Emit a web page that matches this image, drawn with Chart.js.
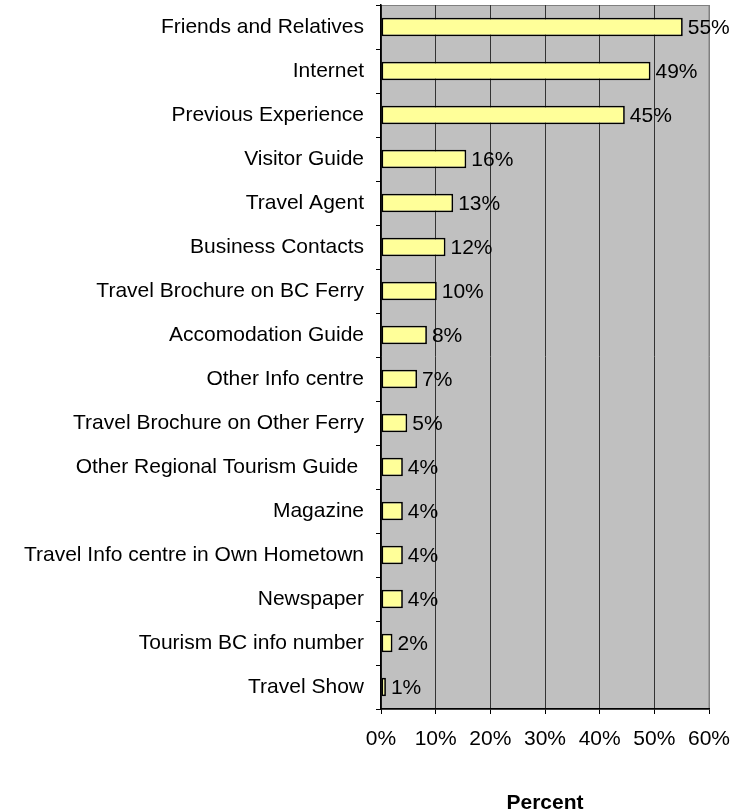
<!DOCTYPE html>
<html>
<head>
<meta charset="utf-8">
<script src="https://cdn.jsdelivr.net/npm/chart.js@4"></script>
<style>
  html, body { margin: 0; padding: 0; background: #fff; }
  #wrap { width: 752px; height: 812px; }
</style>
</head>
<body>
<div id="wrap"><canvas id="myChart" width="752" height="812"></canvas></div>
<script>
// categories, top to bottom
var sources = [
  "Friends and Relatives",
  "Internet",
  "Previous Experience",
  "Visitor Guide",
  "Travel Agent",
  "Business Contacts",
  "Travel Brochure on BC Ferry",
  "Accomodation Guide",
  "Other Info centre",
  "Travel Brochure on Other Ferry",
  "Other Regional Tourism Guide ",
  "Magazine",
  "Travel Info centre in Own Hometown",
  "Newspaper",
  "Tourism BC info number",
  "Travel Show"
];
// percent of respondents
var percents = [55.2, 49.3, 44.6, 15.6, 13.2, 11.8, 10.2, 8.4, 6.6, 4.8, 4.0, 4.0, 4.0, 4.0, 2.1, 0.9];
var xTicks = [0, 10, 20, 30, 40, 50, 60];

var FONT = "'Liberation Sans', Arial, sans-serif";

/* gray plot background + gray frame */
var plotBg = {
  id: 'plotBg',
  beforeDraw: function(chart) {
    var a = chart.chartArea, ctx = chart.ctx;
    ctx.save();
    ctx.fillStyle = '#C0C0C0';
    ctx.fillRect(a.left, a.top, a.right - a.left, a.bottom - a.top);
    ctx.strokeStyle = '#808080';
    ctx.lineWidth = 1;
    ctx.strokeRect(a.left, a.top + 0.5, a.right - a.left, a.bottom - a.top);
    ctx.restore();
  }
};

/* value labels at bar ends */
var barLabels = {
  id: 'barLabels',
  afterDatasetsDraw: function(chart) {
    var ctx = chart.ctx;
    var meta = chart.getDatasetMeta(0);
    ctx.save();
    ctx.font = '21px ' + FONT;
    ctx.fillStyle = '#000';
    ctx.textAlign = 'left';
    ctx.textBaseline = 'middle';
    meta.data.forEach(function(bar, i) {
      ctx.fillText(Math.round(percents[i]) + '%', bar.x + 5, bar.y + 1);
    });
    ctx.restore();
  }
};

var ctx = document.getElementById("myChart").getContext("2d");
var myChart = new Chart(ctx, {
  type: 'bar',
  data: {
    labels: sources,
    datasets: [{
      data: percents,
      backgroundColor: '#FFFF99',
      borderColor: '#000',
      borderWidth: 1.7,
      borderSkipped: false,
      categoryPercentage: 0.42,
      barPercentage: 1
    }]
  },
  options: {
    indexAxis: 'y',
    responsive: false,
    animation: false,
    layout: { padding: { top: 5, right: 43, left: 0, bottom: 0 } },
    plugins: {
      legend: { display: false },
      tooltip: { enabled: false }
    },
    scales: {
      x: {
        min: 0,
        max: 60,
        afterBuildTicks: function(scale) {
          scale.ticks = xTicks.map(function(v) { return { value: v }; });
        },
        afterFit: function(scale) { scale.height = 103; },
        grid: {
          color: function(c) { return c.tick && c.tick.value === 60 ? '#808080' : '#333'; },
          tickColor: '#000',
          tickLength: 5,
          lineWidth: 1
        },
        border: { color: '#000', width: 1.5 },
        ticks: {
          color: '#000',
          padding: 13,
          maxRotation: 0,
          font: { family: FONT, size: 21 },
          callback: function(v) { return v + '%'; }
        },
        title: {
          display: true,
          text: 'Percent',
          color: '#000',
          padding: { top: 0, bottom: 0 },
          font: { family: FONT, size: 21, weight: 'bold', lineHeight: 0.8 }
        }
      },
      y: {
        afterFit: function(scale) {
          scale.width = 381;
          scale.paddingTop = 0;
          scale.paddingBottom = 0;
        },
        grid: {
          drawOnChartArea: false,
          drawTicks: true,
          tickLength: 5,
          tickColor: '#000',
          offset: true
        },
        border: { color: '#000', width: 1.5 },
        ticks: {
          color: '#000',
          padding: 12,
          autoSkip: false,
          font: { family: FONT, size: 21 }
        }
      }
    }
  },
  plugins: [plotBg, barLabels]
});
</script>
</body>
</html>
